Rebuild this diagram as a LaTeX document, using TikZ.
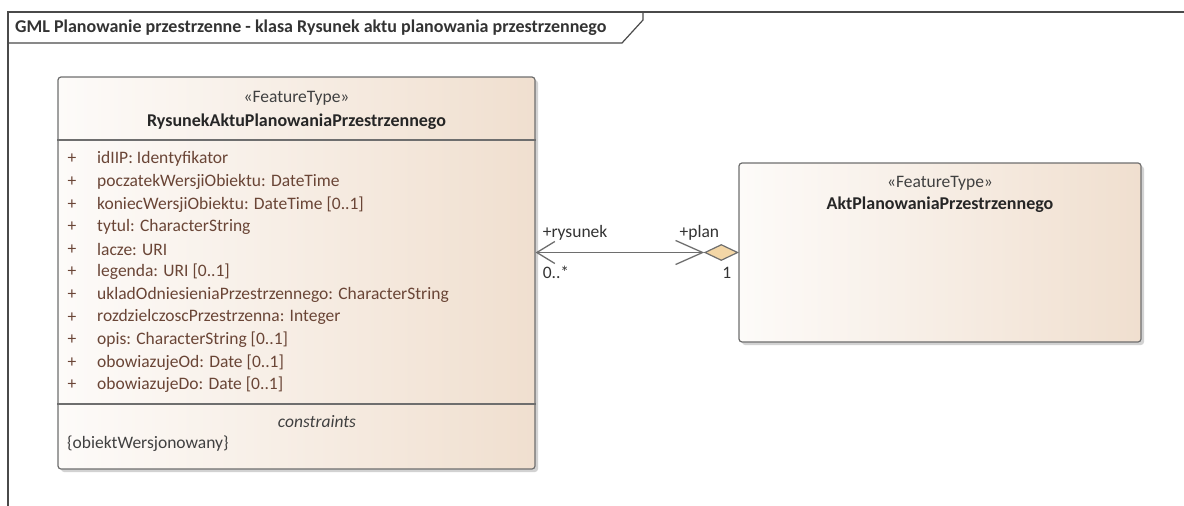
\documentclass[tikz,border=0pt]{standalone}
\usepackage{fontspec}
\setmainfont{Carlito}
\usepackage{xcolor}
\usetikzlibrary{shapes.geometric}
\usetikzlibrary{shadows}
\usetikzlibrary{arrows.meta}
\usetikzlibrary{calc}

\definecolor{umlline}{HTML}{6E6E6E}
\definecolor{frameline}{HTML}{4A4A4A}
\definecolor{featL}{HTML}{FDFBF9}
\definecolor{featR}{HTML}{F0DFCF}
\definecolor{attrtext}{HTML}{6A4536}
\definecolor{aggfill}{HTML}{F3D6A6}

\begin{document}
\begin{tikzpicture}[x=1pt, y=-1pt,
  every node/.style={inner sep=0pt, font=\fontsize{17.5}{20}\selectfont, text=black!80},
  umlclass/.style={draw=umlline, line width=1.2pt, rounded corners=3pt, left color=featL, right color=featR,
    drop shadow={shadow xshift=3pt, shadow yshift=-3pt, fill=black!35, opacity=.5}},
  stereo/.style={text=black!75},
  classname/.style={font=\fontsize{18}{21}\selectfont\bfseries, text=black!85},
  attr/.style={text=attrtext, anchor=west},
  lbl/.style={text=black!80},
  aggdiamond/.style={diamond, draw=umlline, line width=1.2pt, fill=aggfill, minimum width=33pt, minimum height=16pt},
  assoc/.style={draw=umlline, line width=1.3pt, arrows={{Straight Barb[length=18pt,width=22pt]}-{Straight Barb[length=27pt,width=24pt]}}}]
  \useasboundingbox (0,0) rectangle (1184,506);

  % diagram frame
  \draw[frameline, line width=1.4pt] (1184,12) -- (8,12) -- (8,506);
  \draw[frameline, line width=1.2pt] (8,43) -- (622,43) -- (643,20) -- (643,12);
  \node[font=\fontsize{18}{21}\selectfont\bfseries, anchor=west] (title) at (15,28) {GML Planowanie przestrzenne - klasa Rysunek aktu planowania przestrzennego};

  % classes
  \node[umlclass, minimum width=477pt, minimum height=392pt] (rys) at (296.5,273) {};
  \node[umlclass, minimum width=402pt, minimum height=179pt] (akt) at (940,252.5) {};

  \draw[umlline, line width=1.2pt] (rys.west |- 0,140) -- (rys.east |- 0,140);
  \draw[umlline, line width=1.2pt] (rys.west |- 0,404) -- (rys.east |- 0,404);

  \node[stereo] (rysst) at (296.5,98) {«FeatureType»};
  \node[classname] (rysnm) at (296.5,122) {RysunekAktuPlanowaniaPrzestrzennego};
  \node[stereo] (aktst) at (940,183) {«FeatureType»};
  \node[classname] (aktnm) at (940,205) {AktPlanowaniaPrzestrzennego};

  % attributes
  \foreach \txt [count=\i] in {idIIP: Identyfikator, poczatekWersjiObiektu: DateTime,
      koniecWersjiObiektu: DateTime [0..1], tytul: CharacterString, lacze: URI,
      legenda: URI [0..1], ukladOdniesieniaPrzestrzennego: CharacterString,
      rozdzielczoscPrzestrzenna: Integer, opis: CharacterString [0..1],
      obowiazujeOd: Date [0..1], obowiazujeDo: Date [0..1]} {
    \node[text=attrtext] (p\i) at (72,{136.4+22.6*\i}) {+};
    \node[attr] (a\i) at (97,{136.4+22.6*\i}) {\txt};
  }

  \node[font=\fontsize{17.5}{20}\selectfont\itshape, text=black!75] (cons) at (317,422) {constraints};
  \node[anchor=west, text=black!75] (cons1) at (67,444) {\{obiektWersjonowany\}};

  % association
  \coordinate (endL) at (akt.west -| rys.east);
  \node[aggdiamond, anchor=east] (dia) at (akt.west) {};
  \draw[assoc] (endL) -- (dia.west);

  \node[lbl, anchor=west] (roleR) at ([xshift=7pt, yshift=20pt]endL) {+rysunek};
  \node[lbl, anchor=west] (multR) at ([xshift=7pt, yshift=-20pt]endL) {0..*};
  \node[lbl, anchor=east] (roleP) at ([xshift=-19pt, yshift=20pt]akt.west) {+plan};
  \node[lbl, anchor=east] (multP) at ([xshift=-7pt, yshift=-20pt]akt.west) {1};
\end{tikzpicture}
\end{document}
